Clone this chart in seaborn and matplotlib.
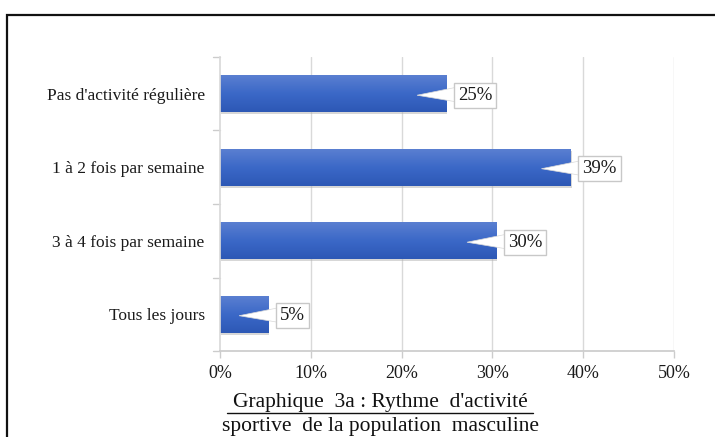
import numpy as np
import pandas as pd
import matplotlib
matplotlib.use("Agg")
import matplotlib.pyplot as plt
import seaborn as sns
from matplotlib.patches import Rectangle
from matplotlib.colors import LinearSegmentedColormap

categories = ["Pas d'activité régulière", "1 à 2 fois par semaine",
              "3 à 4 fois par semaine", "Tous les jours"]
values = [24.9, 38.6, 30.4, 5.3]
value_labels = ["25%", "39%", "30%", "5%"]
xticks = [0, 10, 20, 30, 40, 50]
xtick_labels = ["0%", "10%", "20%", "30%", "40%", "50%"]
title_line1 = "Graphique  3a : Rythme  d'activité"
title_line2 = "sportive  de la population  masculine"

sns.set_theme(style="white")
plt.rcParams['font.family'] = ['Liberation Serif', 'DejaVu Serif']

W, H = 715, 437
fig = plt.figure(figsize=(W / 100, H / 100), dpi=100)
ax = fig.add_axes([220 / W, 1 - 351 / H, (674 - 220) / W, (351 - 57) / H])

df = pd.DataFrame({"cat": categories, "val": values})
sns.barplot(data=df, x="val", y="cat", orient="h", ax=ax, color="#3a66c4",
            width=0.5, saturation=1, edgecolor="none")

# gradient fill on bars
grad = np.linspace(0, 1, 100).reshape(-1, 1)
cmap = LinearSegmentedColormap.from_list("g", ["#5a7fd1", "#3b68c7", "#2d58b5"])
for p in list(ax.patches):
    x0, y0 = p.get_x(), p.get_y()
    w, h = p.get_width(), p.get_height()
    sh = Rectangle((x0 + 0.15, y0 + 0.03), w, h, facecolor="#b0b0b0", alpha=0.5,
                   edgecolor="none", zorder=1.5)
    ax.add_patch(sh)
    ax.imshow(grad, extent=[x0, x0 + w, y0 + h, y0], cmap=cmap,
              aspect="auto", zorder=2, interpolation="bilinear")
    p.set_zorder(1.9)
ax.set_xlim(0, 50)
ax.set_ylim(3.5, -0.5)
ax.set_xlabel("")
ax.set_ylabel("")

# grid
for xv in xticks[1:]:
    ax.axvline(xv, color="#d9d9d9", lw=1, zorder=0)

ax.set_xticks(xticks)
ax.set_xticklabels(xtick_labels, fontsize=13, color="#1a1a1a")
ax.set_yticks(range(len(categories)))
ax.set_yticklabels(categories, fontsize=12.5, color="#1a1a1a")
ax.tick_params(axis="y", length=0, pad=11)
ax.tick_params(axis="x", length=5, color="#cccccc", width=1, pad=5, bottom=True)

for s in ["top", "right"]:
    ax.spines[s].set_visible(False)
ax.spines["left"].set_color("#d9d9d9")
ax.spines["bottom"].set_color("#cccccc")

# y separator ticks
for yb in [0.5, 1.5, 2.5, 3.5, -0.5]:
    ax.plot([-0.8, 0], [yb, yb], color="#cccccc", lw=1, clip_on=False, zorder=1)

# data labels (callouts)
for i, (v, lab) in enumerate(zip(values, value_labels)):
    bx = v + 1.3
    ax.fill([v - 3.2, bx + 0.3, bx + 0.3], [i + 0.02, i - 0.1, i + 0.12],
            facecolor="white", edgecolor="#d8d8d8", lw=0.5, zorder=4)
    ax.text(bx, i + 0.02, lab, ha="left", va="center", fontsize=13.5,
            color="#1a1a1a", zorder=5,
            bbox=dict(boxstyle="square,pad=0.22", fc="white", ec="#c8c8c8", lw=1))

# frame border
fig.patches.append(Rectangle((7 / W, -0.1), 1.2, 1 - 15 / H + 0.1,
                             transform=fig.transFigure, fill=False,
                             ec="#111111", lw=1.6, zorder=10))

# title under chart
fig.text(380 / W, 1 - 403 / H, title_line1, ha="center", va="center",
         fontsize=15.5, color="#111111")
fig.add_artist(plt.Line2D([227 / W, 533 / W], [1 - 413 / H, 1 - 413 / H],
                          color="#111111", lw=1, transform=fig.transFigure))
fig.text(380 / W, 1 - 427 / H, title_line2, ha="center", va="center",
         fontsize=15.5, color="#111111")

fig.savefig("out.png", dpi=100)
